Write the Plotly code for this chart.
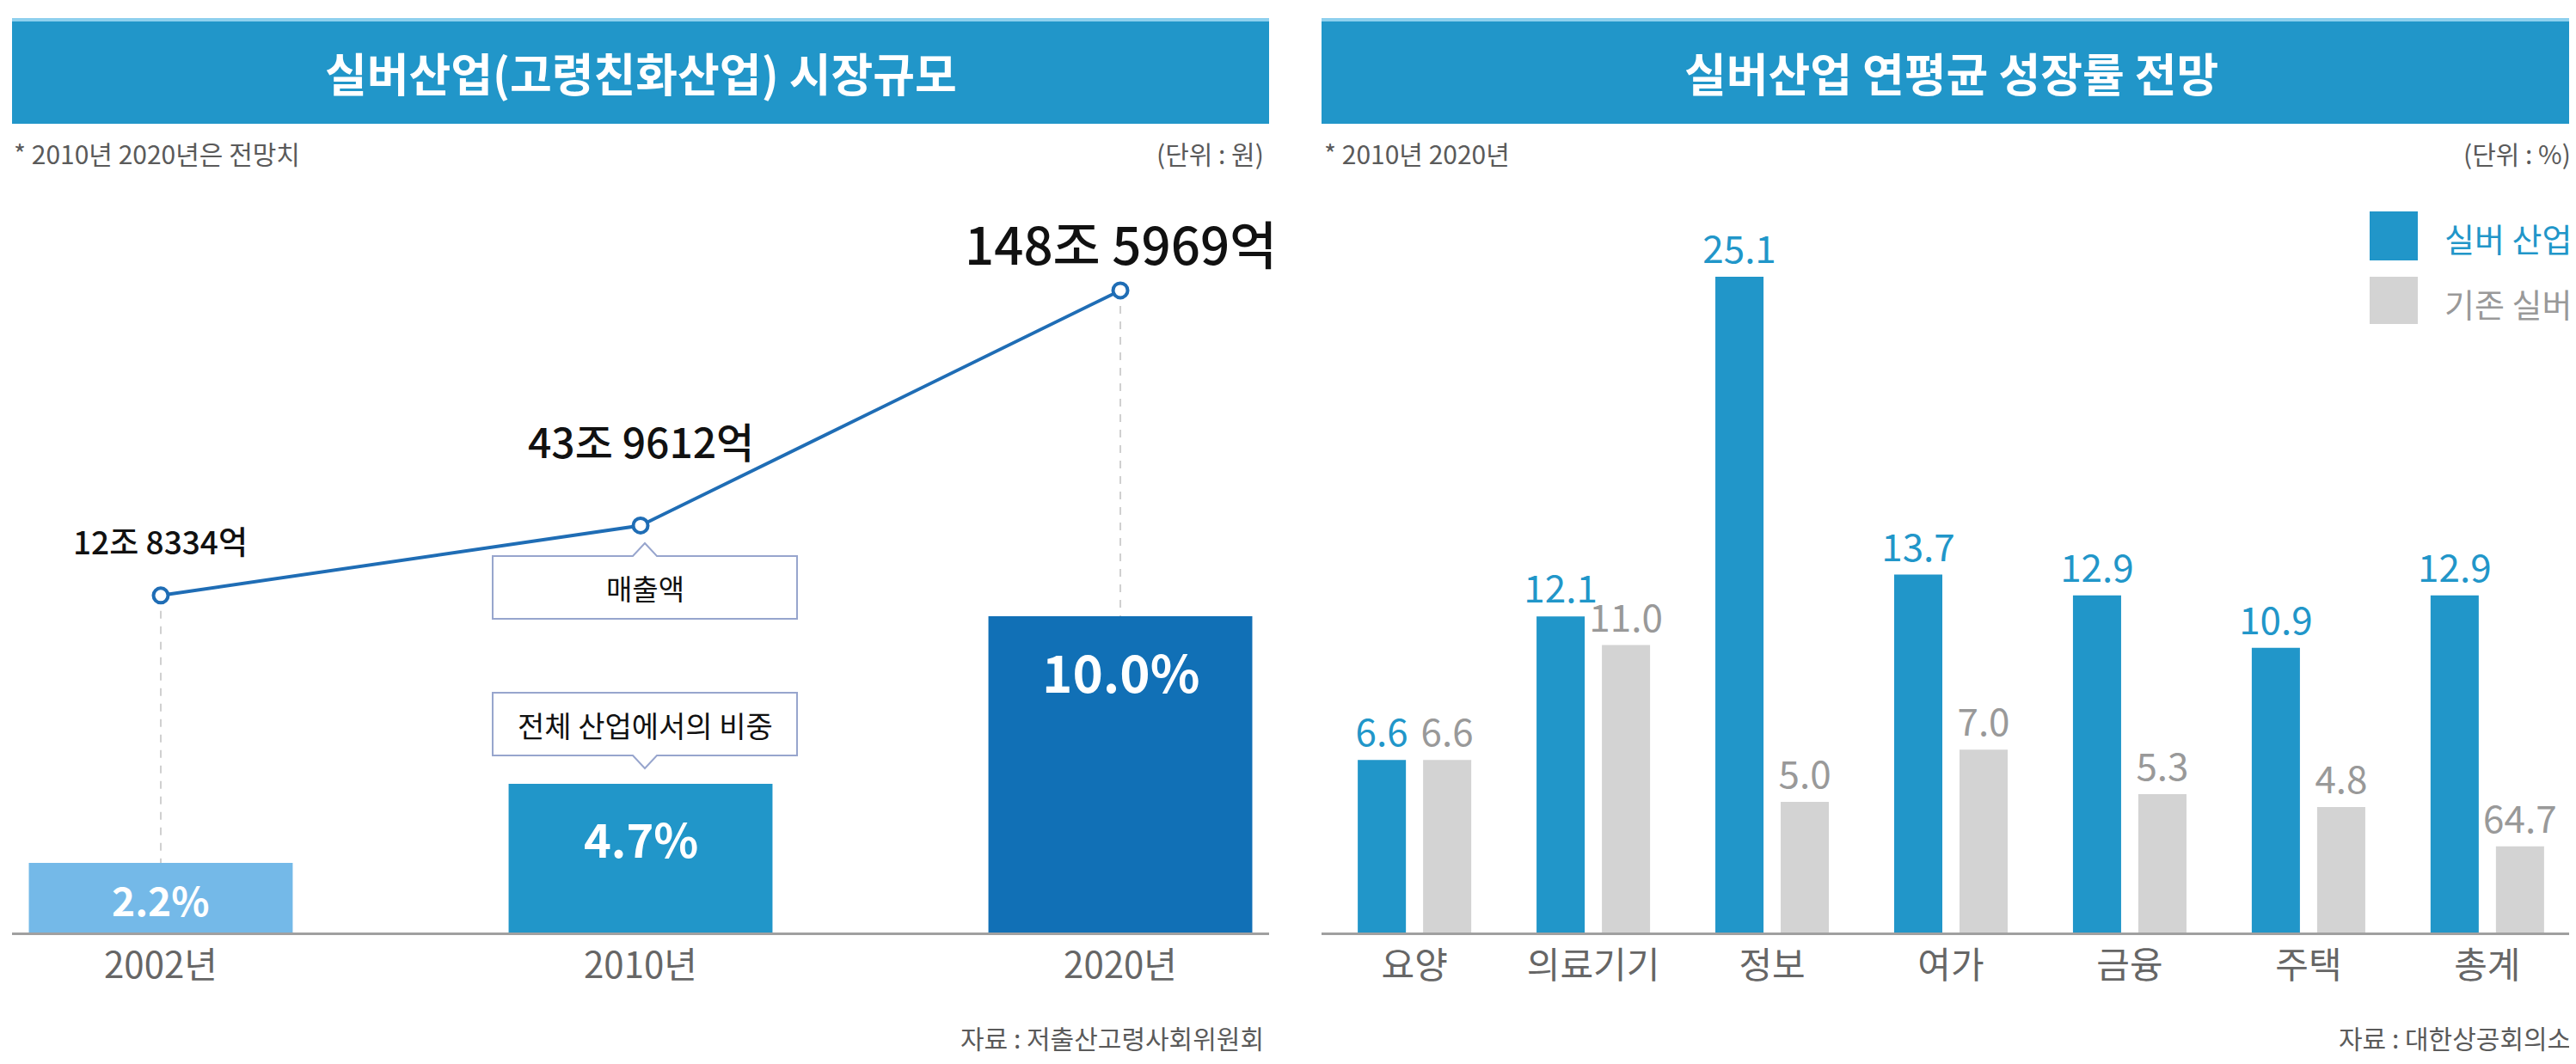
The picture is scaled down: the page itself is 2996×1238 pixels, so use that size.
import plotly.graph_objects as go

W, H = 2996, 1238

# ---------------- data: left panel (시장규모) ----------------
years = ["2002년", "2010년", "2020년"]
share_pct = [2.2, 4.7, 10.0]                      # 전체 산업에서의 비중 (%)
share_labels = ["2.2%", "4.7%", "10.0%"]
sales_jo = [12.8334, 43.9612, 148.5969]           # 매출액 (조 원)
sales_labels = ["12조 8334억", "43조 9612억", "148조 5969억"]

# ---------------- data: right panel (연평균 성장률) ----------------
sectors = ["요양", "의료기기", "정보", "여가", "금융", "주택", "총계"]
silver_name = "실버 산업"
existing_name = "기존 실버"
silver_growth = [6.6, 12.1, 25.1, 13.7, 12.9, 10.9, 12.9]
silver_labels = ["6.6", "12.1", "25.1", "13.7", "12.9", "10.9", "12.9"]
# last bar height; its printed label is "64.7"
existing_growth = [6.6, 11.0, 5.0, 7.0, 5.3, 4.8, 3.3]
existing_labels = ["6.6", "11.0", "5.0", "7.0", "5.3", "4.8", "64.7"]

# ---------------- styles ----------------
FONT = "Noto Sans CJK KR"
TITLE_BLUE = "#2196C9"
LEFT_BAR_COLORS = ["#74B9E8", "#2196C9", "#1170B6"]
LINE_BLUE = "#1F6DB5"
SILVER = "#2196C9"
EXISTING = "#D3D3D3"
GRAY_TXT = "#999999"
DARK_TXT = "#5a5a5a"


def fx(px):
    return px / W


def fy(py):
    return 1 - py / H


BASE = 1077   # baseline pixel
TOP = 240     # top of plotting area pixel

fig = go.Figure()

xpos = list(range(len(years)))

# left bars
fig.add_trace(go.Bar(
    x=xpos, y=share_pct, width=0.55, marker=dict(color=LEFT_BAR_COLORS, line=dict(width=0)),
    xaxis="x", yaxis="y", hoverinfo="skip", showlegend=False))

# left line (매출액)
fig.add_trace(go.Scatter(
    x=xpos, y=sales_jo, xaxis="x", yaxis="y2", mode="lines+markers",
    line=dict(color=LINE_BLUE, width=4),
    marker=dict(size=17, color="white", line=dict(color=LINE_BLUE, width=4)),
    hoverinfo="skip", showlegend=False, cliponaxis=False))

# right grouped bars
fig.add_trace(go.Bar(
    x=sectors, y=silver_growth, name=silver_name, text=silver_labels,
    textposition="outside", constraintext="none", cliponaxis=False,
    textfont=dict(size=44, color=SILVER, family=FONT),
    marker=dict(color=SILVER, line=dict(width=0)),
    xaxis="x2", yaxis="y3", hoverinfo="skip", showlegend=False))
fig.add_trace(go.Bar(
    x=sectors, y=existing_growth, name=existing_name, text=existing_labels,
    textposition="outside", constraintext="none", cliponaxis=False,
    textfont=dict(size=44, color=GRAY_TXT, family=FONT),
    marker=dict(color=EXISTING, line=dict(width=0)),
    xaxis="x2", yaxis="y3", hoverinfo="skip", showlegend=False))

# axis ranges
y_left_max = (BASE - TOP) / 36.8
y2_lo, y2_hi = -137.2, 183.0
y_right_max = (BASE - TOP) / 30.4

shapes = []
annotations = []


def note(text, x, y, size, color, xanchor="center", weight="normal"):
    return dict(text=text, x=fx(x), y=fy(y), xref="paper", yref="paper",
                xanchor=xanchor, yanchor="middle", showarrow=False,
                font=dict(size=size, color=color, family=FONT, weight=weight))


# title bars
for (x0, x1) in [(6, 1468), (1529, 2993)]:
    shapes.append(dict(type="rect", xref="paper", yref="paper",
                       x0=fx(x0), x1=fx(x1), y0=fy(136), y1=fy(14),
                       fillcolor=TITLE_BLUE, line=dict(width=0), layer="above"))
    shapes.append(dict(type="rect", xref="paper", yref="paper",
                       x0=fx(x0), x1=fx(x1), y0=fy(17), y1=fy(13),
                       fillcolor="#8ED0EE", line=dict(width=0), layer="above"))

annotations.append(note("실버산업(고령친화산업) 시장규모", 737, 76, 53, "white", weight="bold"))
annotations.append(note("실버산업 연평균 성장률 전망", 2261, 76, 53, "white", weight="bold"))

# sub notes / units / sources
annotations += [
    note("* 2010년 2020년은 전망치", 6, 170, 30, DARK_TXT, "left"),
    note("(단위 : 원)", 1464, 170, 30, DARK_TXT, "right"),
    note("* 2010년 2020년", 1530, 170, 30, DARK_TXT, "left"),
    note("(단위 : %)", 2984, 170, 30, DARK_TXT, "right"),
    note("자료 : 저출산고령사회위원회", 1464, 1199, 30, DARK_TXT, "right"),
    note("자료 : 대한상공회의소", 2984, 1199, 30, DARK_TXT, "right"),
]

# left bar value labels (inside bars)
bar_lbl_sizes = [46, 54, 60]
bar_lbl_offsets = [42, 62, 62]
for i, v in enumerate(share_pct):
    annotations.append(dict(text=share_labels[i], x=xpos[i], y=v, xref="x", yref="y",
                            yshift=-bar_lbl_offsets[i], xanchor="center", yanchor="middle",
                            showarrow=False,
                            font=dict(size=bar_lbl_sizes[i], color="white", family=FONT, weight="bold")))

# line value labels
line_lbl_sizes = [37, 48, 60]
line_lbl_offsets = [64, 99, 56]
for i, v in enumerate(sales_jo):
    annotations.append(dict(text=sales_labels[i], x=xpos[i], y=v, xref="x", yref="y2",
                            yshift=line_lbl_offsets[i], xanchor="center", yanchor="middle",
                            showarrow=False,
                            font=dict(size=line_lbl_sizes[i], color="#111111", family=FONT, weight=500)))

# dashed guide lines from the line points down to the bars
for i in (0, 2):
    shapes.append(dict(type="line", xref="x", yref="y2", x0=xpos[i], x1=xpos[i],
                       y0=sales_jo[i], y1=y2_lo, layer="below",
                       line=dict(color="#D0D0D0", width=2, dash="dash")))


# callout bubbles
def bubble(x0, x1, y0, y1, cx, tip_y, half=14, up=True):
    if up:
        pts = [(x0, y0), (cx - half, y0), (cx, tip_y), (cx + half, y0), (x1, y0), (x1, y1), (x0, y1)]
    else:
        pts = [(x0, y0), (x1, y0), (x1, y1), (cx + half, y1), (cx, tip_y), (cx - half, y1), (x0, y1)]
    return "M " + " L ".join(f"{fx(px):.5f},{fy(py):.5f}" for px, py in pts) + " Z"


shapes.append(dict(type="path", xref="paper", yref="paper",
                   path=bubble(565, 919, 639, 712, 742, 624, up=True),
                   fillcolor="white", line=dict(color="#97A5CD", width=2), layer="above"))
shapes.append(dict(type="path", xref="paper", yref="paper",
                   path=bubble(565, 919, 798, 871, 742, 886, up=False),
                   fillcolor="white", line=dict(color="#97A5CD", width=2), layer="above"))
annotations.append(note("매출액", 742, 676, 33, "#111111"))
annotations.append(note("전체 산업에서의 비중", 742, 835, 34, "#111111"))

# legend (right panel)
for (y0, y1, col, name, tcol, ty) in [(238, 295, SILVER, silver_name, SILVER, 268),
                                       (314, 369, EXISTING, existing_name, GRAY_TXT, 344)]:
    shapes.append(dict(type="rect", xref="paper", yref="paper",
                       x0=fx(2748), x1=fx(2804), y0=fy(y1), y1=fy(y0),
                       fillcolor=col, line=dict(width=0), layer="above"))
    annotations.append(note(name, 2833, ty, 38, tcol, "left"))

axis_common = dict(showgrid=False, zeroline=False, fixedrange=True)

fig.update_layout(
    width=W, height=H,
    margin=dict(l=0, r=0, t=0, b=0),
    paper_bgcolor="white", plot_bgcolor="white",
    font=dict(family=FONT),
    barmode="group", bargap=0.269, bargroupgap=0.263,
    showlegend=False,
    xaxis=dict(domain=[fx(6), fx(1468)], range=[-0.31, 2.31], anchor="y",
               tickvals=xpos, ticktext=years, showline=True, linecolor="#A0A0A0", linewidth=3,
               ticks="",
               tickfont=dict(size=42, color="#666666", family=FONT), **axis_common),
    yaxis=dict(domain=[fy(BASE), fy(TOP)], range=[0, y_left_max], anchor="x",
               visible=False, **axis_common),
    yaxis2=dict(overlaying="y", range=[y2_lo, y2_hi], anchor="x", visible=False, **axis_common),
    xaxis2=dict(domain=[fx(1529), fx(2993)], range=[-0.52, 6.52], anchor="y3",
                type="category", showline=True, linecolor="#A0A0A0", linewidth=3,
                ticks="",
                tickfont=dict(size=42, color="#666666", family=FONT), **axis_common),
    yaxis3=dict(domain=[fy(BASE), fy(TOP)], range=[0, y_right_max], anchor="x2",
                visible=False, **axis_common),
    shapes=shapes,
    annotations=annotations,
)

fig.write_html("out.html")
